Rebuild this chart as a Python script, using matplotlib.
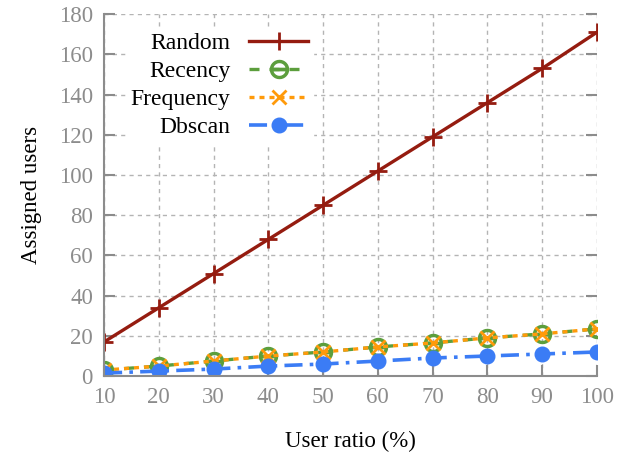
import matplotlib.pyplot as plt

plt.rcParams['font.family'] = ['Liberation Serif', 'DejaVu Serif']

ratios = [10, 20, 30, 40, 50, 60, 70, 80, 90, 100]
random_users = [17, 34, 51, 68, 85, 102, 119, 136, 153, 171]
recency_users = [3, 5, 7.5, 10, 12, 14.5, 16.5, 19, 21, 23.5]
frequency_users = [3, 5, 7.5, 10, 12, 14.5, 16.5, 19, 21, 23.5]
dbscan_users = [1.5, 2.5, 3.5, 5, 6, 7.5, 9, 10, 11, 12]

gray = '#8c8c8c'

fig = plt.figure(figsize=(6.27, 4.57), dpi=100)
ax = fig.add_axes([0.166, 0.177, 0.786, 0.792])

ax.plot(ratios, random_users, color='#951c10', linewidth=2.4, marker='+',
        markersize=13, markeredgewidth=2, label='Random')
ax.plot(ratios, recency_users, color='#5c9e3c', linewidth=2.4, linestyle=(0, (3, 3)),
        marker=r'$\ominus$', markersize=13, label='Recency')
ax.plot(ratios, frequency_users, color='#ff9a0a', linewidth=2.4, linestyle=(0, (1.5, 1.5)),
        marker='x', markersize=10, markeredgewidth=2, label='Frequency')
ax.plot(ratios, dbscan_users, color='#3b7cf5', linewidth=2.6, linestyle=(0, (5, 2, 1, 2)),
        marker='o', markersize=10.5, label='Dbscan')

ax.set_xlim(10, 100)
ax.set_ylim(0, 180)
ax.set_xticks(ratios)
ax.set_yticks(range(0, 181, 20))

ax.grid(True, color='#b4b4b4', linestyle=(0, (3, 3)), linewidth=1)
ax.set_axisbelow(True)

for side in ['top', 'right']:
    ax.spines[side].set_visible(False)
for side in ['left', 'bottom']:
    ax.spines[side].set_color(gray)
    ax.spines[side].set_linewidth(1.5)

ax.tick_params(axis='both', direction='in', length=8, width=1.5, color=gray,
               labelcolor=gray, labelsize=16.5, pad=8)
ax.tick_params(axis='y', right=True)

ax.set_xlabel('User ratio (%)', fontsize=16.5, labelpad=16)
ax.set_ylabel('Assigned users', fontsize=16.5, labelpad=12)

leg = ax.legend(loc='upper left', bbox_to_anchor=(0.02, 0.995), markerfirst=False,
                fontsize=17, frameon=True, framealpha=1, edgecolor='white',
                handlelength=2.5, labelspacing=0.28, borderpad=0.2, fancybox=False)

plt.savefig('out.png', dpi=100)
